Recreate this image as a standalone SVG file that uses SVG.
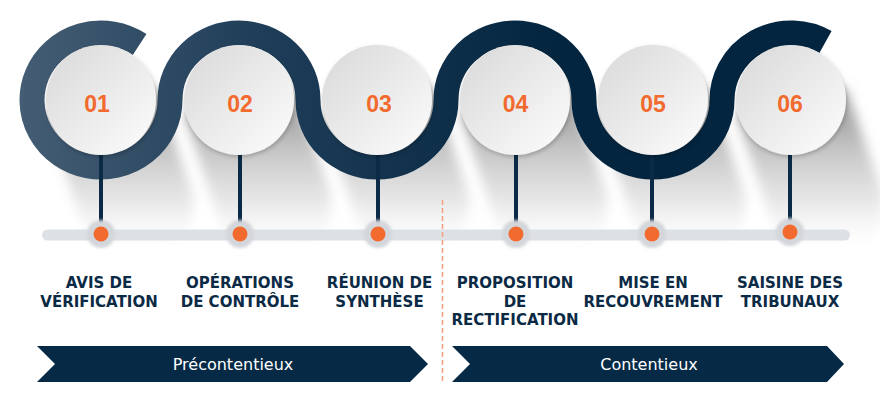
<svg xmlns="http://www.w3.org/2000/svg" width="880" height="407" viewBox="0 0 880 407">
<style>
.lbl{font-family:"DejaVu Sans",sans-serif;font-weight:bold;font-size:15px;fill:#0b2a45;text-anchor:middle}
.num{font-family:"Liberation Sans",Arial,sans-serif;font-weight:bold;font-size:23px;fill:#f26a2e;text-anchor:middle}
.ban{font-family:"DejaVu Sans",sans-serif;font-size:16px;fill:#ffffff;text-anchor:middle}
.stem{stroke:#0b2a45;stroke-width:4}
.halo{fill:#d3d6da}
.dot{fill:#f26a2e}
.disc{fill:url(#discG);filter:url(#ds)}
.shadow{fill:url(#shG);filter:url(#blur)}
.banner{fill:#062a46}
</style>
<defs>
<linearGradient id="ringG" gradientUnits="userSpaceOnUse" x1="20" y1="0" x2="560" y2="0">
<stop offset="0" stop-color="#445d74"/>
<stop offset="0.45" stop-color="#1f3d58"/>
<stop offset="1" stop-color="#03253f"/>
</linearGradient>
<linearGradient id="discG" x1="0" y1="0" x2="1" y2="1">
<stop offset="0" stop-color="#d8d8d8"/>
<stop offset="1" stop-color="#fdfdfd"/>
</linearGradient>
<linearGradient id="shG" gradientUnits="userSpaceOnUse" x1="0" y1="120" x2="0" y2="255">
<stop offset="0" stop-color="#a0a0a0" stop-opacity="0.9"/>
<stop offset="0.6" stop-color="#cfcfcf" stop-opacity="0.5"/>
<stop offset="1" stop-color="#ffffff" stop-opacity="0"/>
</linearGradient>
<filter id="blur" x="-30%" y="-30%" width="160%" height="160%"><feGaussianBlur stdDeviation="6"/></filter>
<filter id="ds" x="-20%" y="-20%" width="140%" height="140%"><feDropShadow dx="1" dy="2" stdDeviation="2" flood-color="#000" flood-opacity="0.22"/></filter>
<filter id="hb" x="-50%" y="-50%" width="200%" height="200%"><feGaussianBlur stdDeviation="1.5"/></filter>
</defs>

<g id="shadows">
<path class="shadow" d="M46.4 112.4 L81.4 222.4 A56 56 0 0 0 190.6 187.6 L155.6 87.6 Z"/>
<path class="shadow" d="M184.4 112.4 L219.4 222.4 A56 56 0 0 0 328.6 187.6 L293.6 87.6 Z"/>
<path class="shadow" d="M322.4 112.4 L357.4 222.4 A56 56 0 0 0 466.6 187.6 L431.6 87.6 Z"/>
<path class="shadow" d="M460.4 112.4 L495.4 222.4 A56 56 0 0 0 604.6 187.6 L569.6 87.6 Z"/>
<path class="shadow" d="M598.4 112.4 L633.4 222.4 A56 56 0 0 0 742.6 187.6 L707.6 87.6 Z"/>
<path class="shadow" d="M736.4 112.4 L771.4 222.4 A56 56 0 0 0 880.6 187.6 L845.6 87.6 Z"/>
</g>

<g id="connectors">
<path id="ring" d="M139.6 44.5 A69 67 0 1 0 170 100 A69 67 0 0 1 308 100 A69 67 0 0 0 446 100 A69 67 0 0 1 584 100 A69 67 0 0 0 722 100 A69 67 0 0 1 825.5 42" fill="none" stroke="url(#ringG)" stroke-width="25"/>
<rect id="track" x="42" y="229.5" width="808" height="11" rx="5.5" fill="#dde0e5"/>
<line class="stem" x1="101" y1="150" x2="101" y2="234"/>
<line class="stem" x1="240" y1="150" x2="240" y2="234"/>
<line class="stem" x1="378" y1="150" x2="378" y2="234"/>
<line class="stem" x1="516" y1="150" x2="516" y2="234"/>
<line class="stem" x1="652" y1="150" x2="652" y2="234"/>
<line class="stem" x1="790" y1="150" x2="790" y2="232"/>
<line id="divider" x1="442.5" y1="200" x2="442.5" y2="383" stroke="#f5a07a" stroke-width="1.5" stroke-dasharray="5 3"/>
</g>

<g id="step1">
<circle class="disc" cx="101" cy="100" r="55"/>
<text class="num" x="97" y="111.5">01</text>
<circle class="halo" cx="101" cy="234" r="14" filter="url(#hb)"/>
<circle class="dot" cx="101" cy="234" r="7.5"/>
<text class="lbl" x="99" y="288">AVIS DE</text>
<text class="lbl" x="99" y="306.5">VÉRIFICATION</text>
</g>
<g id="step2">
<circle class="disc" cx="239" cy="100" r="55"/>
<text class="num" x="240" y="111.5">02</text>
<circle class="halo" cx="240" cy="234" r="14" filter="url(#hb)"/>
<circle class="dot" cx="240" cy="234" r="7.5"/>
<text class="lbl" x="240" y="288">OPÉRATIONS</text>
<text class="lbl" x="240" y="306.5">DE CONTRÔLE</text>
</g>
<g id="step3">
<circle class="disc" cx="377" cy="100" r="55"/>
<text class="num" x="379" y="111.5">03</text>
<circle class="halo" cx="378" cy="234" r="14" filter="url(#hb)"/>
<circle class="dot" cx="378" cy="234" r="7.5"/>
<text class="lbl" x="379.5" y="288">RÉUNION DE</text>
<text class="lbl" x="379.5" y="306.5">SYNTHÈSE</text>
</g>
<g id="step4">
<circle class="disc" cx="515" cy="100" r="55"/>
<text class="num" x="515.5" y="111.5">04</text>
<circle class="halo" cx="516" cy="234" r="14" filter="url(#hb)"/>
<circle class="dot" cx="516" cy="234" r="7.5"/>
<text class="lbl" x="515" y="288">PROPOSITION</text>
<text class="lbl" x="515" y="306.5">DE</text>
<text class="lbl" x="515" y="325">RECTIFICATION</text>
</g>
<g id="step5">
<circle class="disc" cx="653" cy="100" r="55"/>
<text class="num" x="653" y="111.5">05</text>
<circle class="halo" cx="652" cy="234" r="14" filter="url(#hb)"/>
<circle class="dot" cx="652" cy="234" r="7.5"/>
<text class="lbl" x="653" y="288">MISE EN</text>
<text class="lbl" x="653" y="306.5">RECOUVREMENT</text>
</g>
<g id="step6">
<circle class="disc" cx="791" cy="100" r="55"/>
<text class="num" x="790" y="111.5">06</text>
<circle class="halo" cx="790" cy="232" r="14" filter="url(#hb)"/>
<circle class="dot" cx="790" cy="232" r="7.5"/>
<text class="lbl" x="790" y="288">SAISINE DES</text>
<text class="lbl" x="790" y="306.5">TRIBUNAUX</text>
</g>

<g id="phase1">
<polygon class="banner" points="37,346 410,346 428,364 410,382 37,382 55,364"/>
<text class="ban" x="233" y="370">Précontentieux</text>
</g>
<g id="phase2">
<polygon class="banner" points="452,346 827,346 844,364 827,382 452,382 470,364"/>
<text class="ban" x="649" y="370">Contentieux</text>
</g>
</svg>
